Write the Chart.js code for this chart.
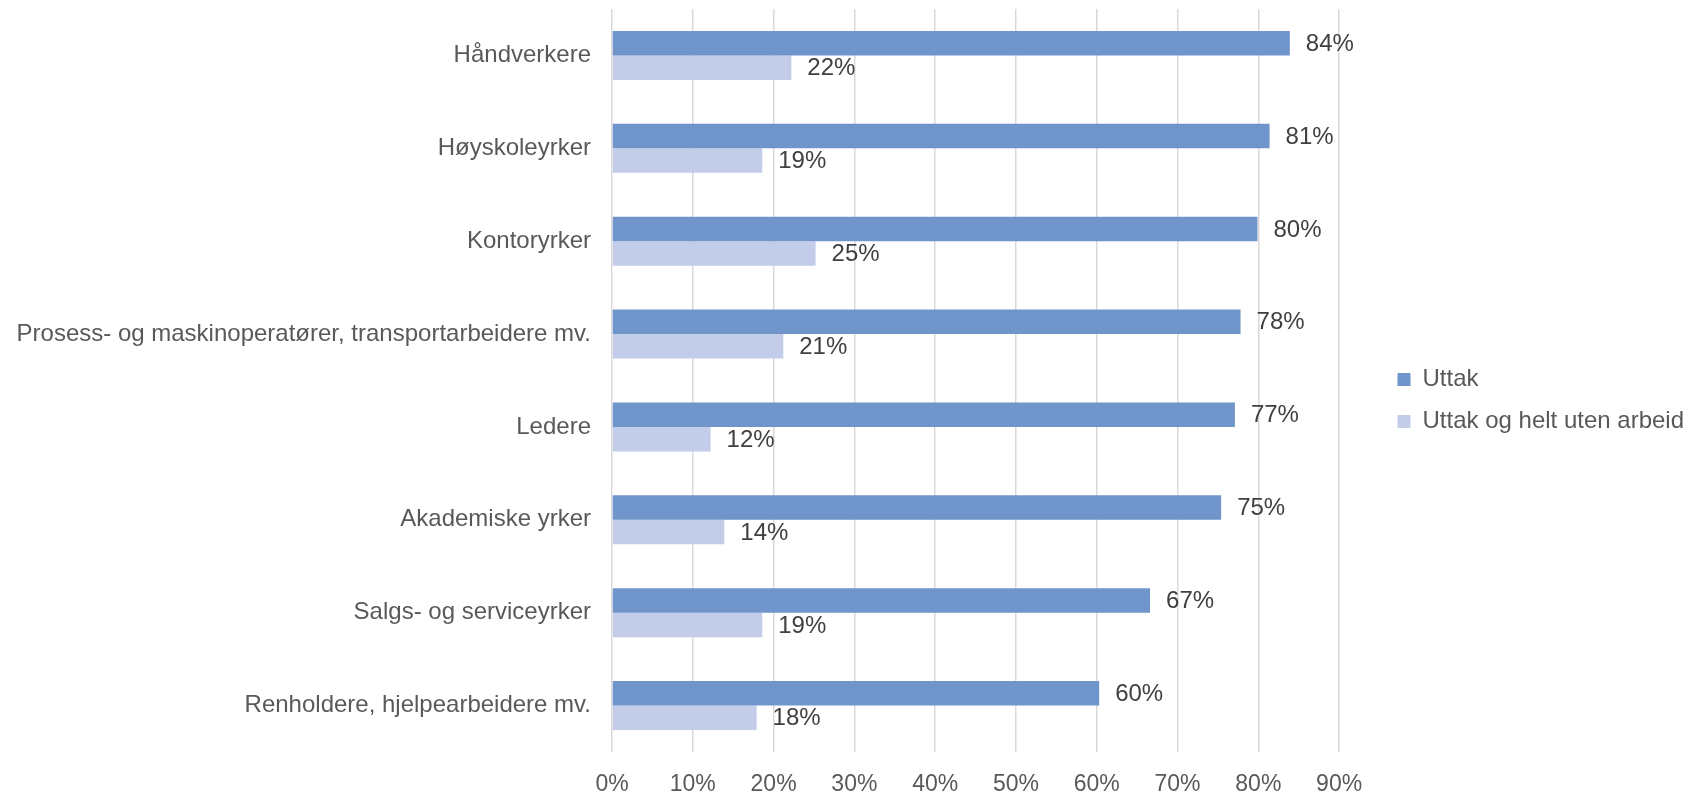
<!DOCTYPE html>
<html lang="no">
<head>
    <meta charset="UTF-8">
    <title>Uttak etter yrke</title>
    <script src="https://cdn.jsdelivr.net/npm/chart.js"></script>
    <style>
        body {
            margin: 0;
            padding: 0;
            background: #ffffff;
        }
        canvas {
            display: block;
        }
    </style>
</head>
<body>
    <canvas id="chartCanvas" width="1684" height="792"></canvas>

    <script>
        const categories = [
            'Håndverkere',
            'Høyskoleyrker',
            'Kontoryrker',
            'Prosess- og maskinoperatører, transportarbeidere mv.',
            'Ledere',
            'Akademiske yrker',
            'Salgs- og serviceyrker',
            'Renholdere, hjelpearbeidere mv.'
        ];
        const uttak = [83.9, 81.4, 79.9, 77.8, 77.1, 75.4, 66.6, 60.3];
        const uttakUtenArbeid = [22.2, 18.6, 25.2, 21.2, 12.2, 13.9, 18.6, 17.9];
        const seriesNames = ['Uttak', 'Uttak og helt uten arbeid'];

        const fontFamily = '"Liberation Sans", Arial, sans-serif';
        const textGray = '#595959';

        // draws the percent labels just past the end of each bar
        const barLabels = {
            id: 'barLabels',
            afterDatasetsDraw(chart) {
                const ctx = chart.ctx;
                ctx.save();
                ctx.font = '24px ' + fontFamily;
                ctx.fillStyle = '#404040';
                ctx.textAlign = 'left';
                ctx.textBaseline = 'middle';
                chart.data.datasets.forEach((ds, i) => {
                    const meta = chart.getDatasetMeta(i);
                    meta.data.forEach((bar, j) => {
                        ctx.fillText(Math.round(ds.data[j]) + '%', bar.x + 16, bar.y + 1);
                    });
                });
                ctx.restore();
            }
        };

        new Chart(document.getElementById('chartCanvas'), {
            type: 'bar',
            data: {
                labels: categories,
                datasets: [{
                    label: seriesNames[0],
                    data: uttak,
                    backgroundColor: '#6F95CB',
                    categoryPercentage: 0.527,
                    barPercentage: 1
                }, {
                    label: seriesNames[1],
                    data: uttakUtenArbeid,
                    backgroundColor: '#C3CCE8',
                    categoryPercentage: 0.527,
                    barPercentage: 1
                }]
            },
            options: {
                indexAxis: 'y',
                responsive: false,
                animation: false,
                layout: {
                    padding: { top: 9, right: -10, bottom: 0, left: 0 }
                },
                plugins: {
                    tooltip: { enabled: false },
                    legend: {
                        position: 'right',
                        labels: {
                            boxWidth: 13,
                            boxHeight: 13,
                            padding: 18,
                            color: textGray,
                            font: { family: fontFamily, size: 24 }
                        }
                    }
                },
                scales: {
                    x: {
                        min: 0,
                        max: 95,
                        afterFit: (scale) => {
                            scale.height = 40;
                            scale.paddingLeft = 0;
                            scale.paddingRight = 0;
                        },
                        grid: {
                            color: '#D9D9D9',
                            lineWidth: 1.5,
                            drawTicks: false
                        },
                        border: { display: false },
                        ticks: {
                            stepSize: 10,
                            includeBounds: false,
                            padding: 19,
                            color: textGray,
                            font: { family: fontFamily, size: 23 },
                            callback: (v) => v + '%'
                        }
                    },
                    y: {
                        afterFit: (scale) => {
                            scale.width = 612;
                            scale.paddingTop = 0;
                            scale.paddingBottom = 0;
                        },
                        grid: { display: false, drawTicks: false },
                        border: { display: false },
                        ticks: {
                            padding: 21,
                            color: textGray,
                            font: { family: fontFamily, size: 24 }
                        }
                    }
                }
            },
            plugins: [barLabels]
        });
    </script>
</body>
</html>
